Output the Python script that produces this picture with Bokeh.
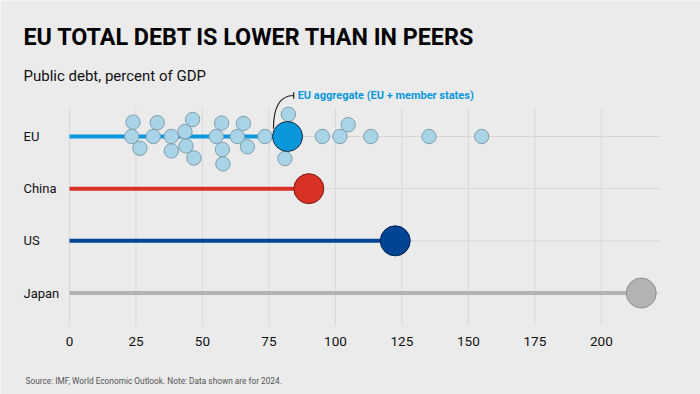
import math
from bokeh.plotting import figure
from bokeh.models import Range1d, Label
from bokeh.core.properties import value
from bokeh.embed import file_html
from bokeh.resources import INLINE

# ---------------- data ----------------
categories = ["EU", "China", "US", "Japan"]
debt_values = [82.0, 90.0, 122.5, 215.0]          # public debt, % of GDP, 2024
member_states = [23.4, 23.9, 26.5, 31.5, 33.0, 38.3, 38.3, 43.4, 43.8, 46.3,
                 46.8, 55.2, 57.2, 57.5, 57.7, 63.1, 65.4, 66.9, 73.5, 82.3,
                 81.0, 95.1, 101.7, 104.8, 113.3, 135.2, 155.0]
x_ticks = [0, 25, 50, 75, 100, 125, 150, 175, 200]
x_tick_labels = [str(t) for t in x_ticks]

title_text = "EU TOTAL DEBT IS LOWER THAN IN PEERS"
subtitle_text = "Public debt, percent of GDP"
source_text = "Source: IMF, World Economic Outlook. Note: Data shown are for 2024."
annot_text = "EU aggregate (EU + member states)"

# ---------------- styles / layout ----------------
BG = "#ebebeb"
GRID = "#d7d7d7"
fills = ["#0a97dc", "#d83125", "#004494", "#b3b3b3"]
outlines = ["#1d2d3a", "#7a1a12", "#00234d", "#8e8e8e"]
MEMBER_FILL = "#a9d3e6"
MEMBER_LINE = "#7f9fad"

W, H = 700, 394
XS = 2.6594          # px per percentage point
X_ZERO = 68.98       # page x of value 0
YS = 52.17           # px per row
Y_FIRST = 136.0      # page y of first row

def px_to_x(px):
    return (px - X_ZERO) / XS

def py_to_y(py):
    return (py - Y_FIRST) / YS

BIG = 30.0
SMALL = 14.4

p = figure(width=W, height=H, output_backend="svg", toolbar_location=None,
           x_range=Range1d(px_to_x(0), px_to_x(W)),
           y_range=Range1d(py_to_y(H), py_to_y(0)),
           min_border_left=0, min_border_right=0, min_border_top=0,
           min_border_bottom=0)
p.title.visible = False
p.background_fill_color = BG
p.border_fill_color = BG
p.outline_line_color = None
p.xgrid.visible = False
p.ygrid.visible = False
p.xaxis.visible = False
p.yaxis.visible = False

rows = list(range(len(categories)))

# grid lines
grid_top, grid_bottom = py_to_y(108), py_to_y(325)
grid_end = px_to_x(660)
p.segment(x0=x_ticks, y0=[grid_top] * len(x_ticks), x1=x_ticks,
          y1=[grid_bottom] * len(x_ticks), line_color=GRID, line_width=1)
p.segment(x0=[0] * len(rows), y0=rows, x1=[grid_end] * len(rows), y1=rows,
          line_color=GRID, line_width=1)

# lollipop stems
p.segment(x0=[0] * len(rows), y0=rows, x1=debt_values, y1=rows,
          line_color=fills, line_width=4)

# annotation connector (drawn under the dot)
eu_val = debt_values[0]
cx0 = eu_val - 5.3
cy0 = -0.15
ex = eu_val + 2.3
ey = py_to_y(95)
p.quadratic(x0=[cx0], y0=[cy0], x1=[ex], y1=[ey], cx=[cx0], cy=[ey],
            line_color="#222222", line_width=1.2)
p.segment(x0=[ex], y0=[ey - 0.06], x1=[ex], y1=[ey + 0.06],
          line_color="#222222", line_width=1.2)

# beeswarm of member states (greedy, pixel space)
placed = [(eu_val * XS, 0.0, BIG / 2)]
mx, my = [], []
for v in member_states:
    x = v * XS
    r = SMALL / 2
    cands = [0.0]
    for (px, py, pr) in placed:
        d = r + pr
        dx = x - px
        if abs(dx) < d:
            h = math.sqrt(d * d - dx * dx)
            cands += [py - h, py + h]
    cands.sort(key=lambda c: (round(abs(c), 6), c))
    chosen = cands[-1]
    for c in cands:
        ok = True
        for (px, py, pr) in placed:
            if (x - px) ** 2 + (c - py) ** 2 < (r + pr) ** 2 - 1e-6:
                ok = False
                break
        if ok:
            chosen = c
            break
    placed.append((x, chosen, r))
    mx.append(v)
    my.append(chosen / YS)

p.scatter(x=mx, y=my, size=SMALL, fill_color=MEMBER_FILL,
          line_color=MEMBER_LINE, line_width=1)

# peer dots
p.scatter(x=debt_values, y=rows, size=BIG, fill_color=fills,
          line_color=outlines, line_width=1)

# annotation text
p.text(x=[eu_val + 3.8], y=[ey], text=[annot_text], text_font=value("Roboto"),
       text_font_style="bold", text_font_size="11px", text_color="#0a97dc",
       text_baseline="middle", text_align="left")

# category labels
label_x = px_to_x(23)
p.text(x=[label_x] * len(rows), y=rows, text=categories,
       text_font=value("Roboto"), text_font_size="13px", text_color="#111111",
       text_baseline="middle", text_align="left")

# x tick labels
p.text(x=x_ticks, y=[py_to_y(341)] * len(x_ticks), text=x_tick_labels,
       text_font=value("Roboto"), text_font_size="13.5px", text_color="#111111",
       text_baseline="middle", text_align="center")

# title, subtitle, source (screen units from bottom-left of canvas)
p.add_layout(Label(x=23, y=H - 36, x_units="screen", y_units="screen",
                   text=title_text, text_font="Roboto", text_font_style="bold",
                   text_font_size="23.3px", text_color="#000000",
                   text_baseline="alphabetic"))
p.add_layout(Label(x=23, y=H - 75, x_units="screen", y_units="screen",
                   text=subtitle_text, text_font="Roboto",
                   text_font_size="15px", text_color="#111111",
                   text_baseline="alphabetic"))
p.add_layout(Label(x=25, y=H - 380, x_units="screen", y_units="screen",
                   text=source_text, text_font="Roboto",
                   text_font_size="8.3px", text_color="#555555",
                   text_baseline="alphabetic"))

open("out.html", "w").write(file_html(p, INLINE))
